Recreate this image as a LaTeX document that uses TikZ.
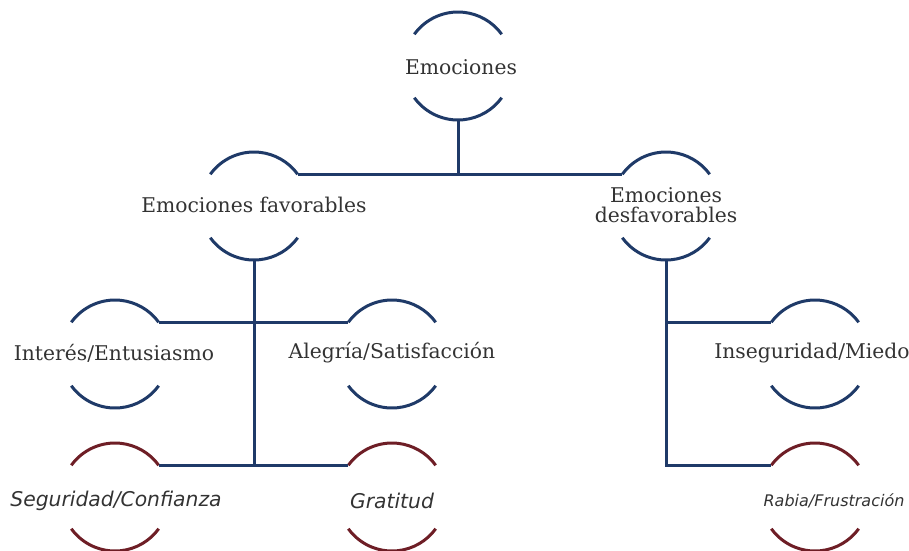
\documentclass[tikz,border=0pt]{standalone}
\usepackage{fontspec}
\setmainfont{DejaVu Serif}
\newfontfamily\itfont{DejaVu Sans}
\usetikzlibrary{calc}
\definecolor{ringblue}{HTML}{1F3A68}
\definecolor{ringred}{HTML}{6E1E26}
\definecolor{txtgray}{HTML}{333333}
\tikzset{
  ring/.style={circle, minimum size=108pt, inner sep=0pt, outer sep=0pt},
  lbl/.style={text=txtgray, font=\fontsize{20.3}{23}\selectfont, align=center, inner sep=0pt},
  ilbl/.style={text=txtgray, font=\itfont\itshape\fontsize{20.3}{23}\selectfont, align=center, inner sep=0pt},
  conn/.style={draw=ringblue, line width=3pt},
  arcb/.style={draw=ringblue, line width=3pt},
  arcr/.style={draw=ringred, line width=3pt},
}
\begin{document}
\begin{tikzpicture}[x=1pt,y=1pt]
\useasboundingbox (0,0) rectangle (909,-550);
% ring nodes
\node[ring] (emo) at (458,-66) {};
\node[ring] (fav) at (254,-206) {};
\node[ring] (des) at (666,-206) {};
\node[ring] (int) at (115,-354) {};
\node[ring] (ale) at (392,-354) {};
\node[ring] (ins) at (815,-354) {};
\node[ring] (seg) at (115,-497) {};
\node[ring] (gra) at (392,-497) {};
\node[ring] (rab) at (815,-497) {};
% arcs
\foreach \n in {emo,fav,des,int,ale,ins}{
  \draw[arcb] (\n.144) arc[start angle=144,end angle=36,radius=54pt];
  \draw[arcb] (\n.216) arc[start angle=216,end angle=324,radius=54pt];
}
\foreach \n in {seg,gra,rab}{
  \draw[arcr] (\n.144) arc[start angle=144,end angle=36,radius=54pt];
  \draw[arcr] (\n.216) arc[start angle=216,end angle=324,radius=54pt];
}
% labels
\node[lbl] (emoT) at (461,-67) {Emociones};
\node[lbl] (favT) at (254,-205) {Emociones favorables};
\node[lbl] (desT) at (666,-205) {Emociones\\[-3pt]desfavorables};
\node[lbl] (intT) at (114,-353) {Interés/Entusiasmo};
\node[lbl] (aleT) at (392,-353) {Alegría/Satisfacción};
\node[lbl] (insT) at (812,-353) {Inseguridad/Miedo};
\node[ilbl] (segT) at (116,-501) {Seguridad/Confianza};
\node[ilbl] (graT) at (392,-501) {Gratitud};
\node[ilbl, font=\itfont\itshape\fontsize{16}{19}\selectfont] (rabT) at (834,-501) {Rabia/Frustración};
% connectors
\draw[conn] (emo.south) -- (emo.south |- fav.36);
\draw[conn] (fav.36) -- (des.144);
\draw[conn] (fav.south) -- (fav.south |- seg.36);
\draw[conn] (int.36) -- (ale.144);
\draw[conn] (seg.36) -- (gra.144);
\draw[conn] (des.south) |- (rab.144);
\draw[conn] (des.south |- ins.144) -- (ins.144);
\end{tikzpicture}
\end{document}
